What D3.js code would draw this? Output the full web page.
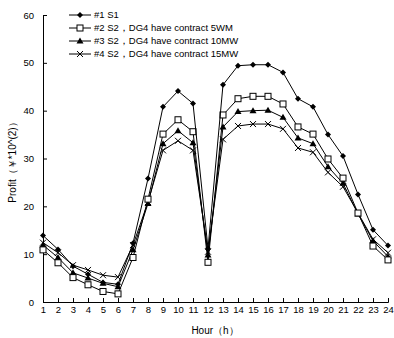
<!DOCTYPE html>
<html><head><meta charset="utf-8">
<script src="https://cdn.jsdelivr.net/npm/d3@7"></script>
<style>body{margin:0;background:#fff}svg{display:block;font-family:Arial,"Liberation Sans",sans-serif}</style>
</head><body>
<svg id="c" width="394" height="338"></svg>
<script>
const hours = d3.range(1, 25);
const s1 = [13.9,11.0,7.5,5.8,4.1,3.7,12.3,25.8,40.8,44.1,41.5,11.2,45.4,49.4,49.6,49.6,48.0,42.5,40.8,35.0,30.5,22.5,15.1,11.8];
const s2 = [10.9,8.2,5.1,3.6,2.2,1.7,9.3,21.5,35.1,38.1,35.6,8.3,39.1,42.5,43.0,43.0,41.4,36.6,35.1,29.9,25.9,18.6,11.7,8.8];
const s3 = [11.9,9.3,6.1,5.0,3.9,3.2,10.9,20.6,33.1,35.8,33.3,9.8,36.6,39.8,40.0,40.1,38.6,34.3,33.1,28.3,24.8,18.4,12.8,9.5];
const s4 = [12.4,10.3,7.7,6.7,5.6,5.2,11.9,20.9,31.7,33.7,31.7,10.5,34.0,36.8,37.2,37.2,36.2,32.2,31.3,27.1,24.1,18.6,13.1,10.3];
const seriesNames = ["#1 S1","#2 S2，DG4 have contract 5WM","#3 S2，DG4 have contract 10MW","#4 S2，DG4 have contract 15MW"];
const markers = ["diamond","square","triangle","cross"];
const yTicks = [0,10,20,30,40,50,60];
const xTitle = "Hour（h）";
const yTitle = "Profit（￥*10^(2)）";

const series = [s1,s2,s3,s4];
const svg = d3.select("#c");
const x = d3.scaleLinear().domain([1,24]).range([43,388]);
const y = d3.scaleLinear().domain([0,60]).range([302,15]);

// axes
const yAxis = svg.append("g").attr("transform","translate(43,0)")
  .call(d3.axisLeft(y).tickValues(yTicks).tickSize(-4).tickPadding(9));
const xAxis = svg.append("g").attr("transform","translate(0,302)")
  .call(d3.axisBottom(x).tickValues(hours).tickSize(-4).tickPadding(9).tickFormat(d3.format("d")));
[yAxis,xAxis].forEach(a=>{
  a.select(".domain").attr("stroke","#000");
  a.selectAll(".tick line").attr("stroke","#000");
  a.selectAll("text").attr("fill","#000").attr("font-size","9.5px").attr("font-family","Arial, 'Liberation Sans', sans-serif");
});
xAxis.selectAll("text").attr("dy","0.2em");

svg.append("text").attr("x",215).attr("y",334).attr("text-anchor","middle")
  .attr("font-size","10px").text(xTitle);
svg.append("text").attr("transform","translate(16,160) rotate(-90)").attr("text-anchor","middle")
  .attr("font-size","10px").text(yTitle);

function drawMarker(g, type, cx, cy){
  if(type==="diamond"){
    g.append("path").attr("d",`M${cx},${cy-3}L${cx+3},${cy}L${cx},${cy+3}L${cx-3},${cy}Z`).attr("fill","#000");
  } else if(type==="square"){
    g.append("rect").attr("x",cx-3).attr("y",cy-3).attr("width",6).attr("height",6).attr("fill","#fff").attr("stroke","#000").attr("stroke-width",1);
  } else if(type==="triangle"){
    g.append("path").attr("d",`M${cx},${cy-3.5}L${cx+3.5},${cy+2.5}L${cx-3.5},${cy+2.5}Z`).attr("fill","#000");
  } else {
    g.append("path").attr("d",`M${cx-3},${cy-3}L${cx+3},${cy+3}M${cx-3},${cy+3}L${cx+3},${cy-3}`).attr("stroke","#000").attr("stroke-width",1);
  }
}

const line = d3.line().x((d,i)=>x(hours[i])).y(d=>y(d));
for(let k=series.length-1;k>=0;k--){
  const g = svg.append("g");
  g.append("path").attr("d",line(series[k])).attr("fill","none").attr("stroke","#000").attr("stroke-width",1);
  series[k].forEach((v,i)=>drawMarker(g, markers[k], x(hours[i]), y(v)));
}

// legend
const lg = svg.append("g");
const ly = [15,28,41,54];
seriesNames.forEach((n,k)=>{
  lg.append("line").attr("x1",69).attr("x2",91).attr("y1",ly[k]).attr("y2",ly[k]).attr("stroke","#000");
  drawMarker(lg, markers[k], 80, ly[k]);
  lg.append("text").attr("x",94).attr("y",ly[k]).attr("dy","0.35em").attr("font-size","9.5px").text(n);
});
</script>
</body></html>
